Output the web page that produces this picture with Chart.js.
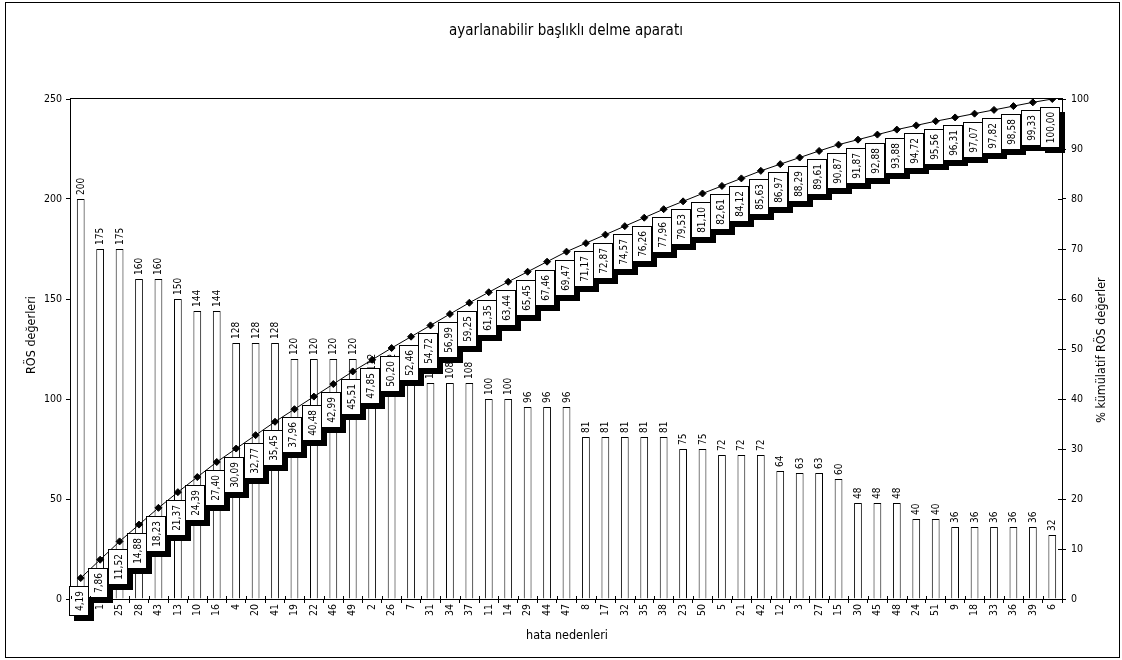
<!DOCTYPE html>
<html>
<head>
<meta charset="utf-8">
<script src="https://cdn.jsdelivr.net/npm/chart.js@4.4.1/dist/chart.umd.min.js"></script>
<style>
  html, body { margin: 0; padding: 0; background: #fff; }
  #wrap { width: 1122px; height: 660px; }
</style>
</head>
<body>
<div id="wrap"><canvas id="pareto" width="1122" height="660"></canvas></div>
<script>
// Texts
const chartTitle = 'ayarlanabilir başlıklı delme aparatı';
const xAxisTitle = 'hata nedenleri';
const leftAxisTitle = 'RÖS değerleri';
const rightAxisTitle = '% kümülatif RÖS değerler';

// Failure causes, sorted by RÖS value (descending)
const causes = ['40','1','25','28','43','13','10','16','4','20','41','19','22','46','49','2','26','7',
  '31','34','37','11','14','29','44','47','8','17','32','35','38','23','50','5','21','42','12','3',
  '27','15','30','45','48','24','51','9','18','33','36','39','6'];

// RÖS value of each cause
const rosValues = [200,175,175,160,160,150,144,144,128,128,128,120,120,120,120,112,112,108,
  108,108,108,100,100,96,96,96,81,81,81,81,81,75,75,72,72,72,64,63,
  63,60,48,48,48,40,40,36,36,36,36,36,32];

// Axis tick labels
const leftTicks = [0, 50, 100, 150, 200, 250];
const rightTicks = [0, 10, 20, 30, 40, 50, 60, 70, 80, 90, 100];

// Cumulative percentage (rounded to two decimals, used for both the line and its labels)
const total = rosValues.reduce((a, b) => a + b, 0);
let running = 0;
const cumulativePct = rosValues.map(v => {
  running += v;
  return Math.round(running / total * 10000) / 100;
});

const FONT = "'DejaVu Sans Condensed', 'DejaVu Sans', sans-serif";
const fmt = v => v.toFixed(2).replace('.', ',');

const decor = {
  id: 'decor',
  beforeDatasetsDraw(chart) {
    const { ctx, chartArea: a } = chart;
    ctx.save();
    ctx.strokeStyle = '#000';
    ctx.lineWidth = 1;
    ctx.strokeRect(Math.round(a.left) - 0.5, Math.round(a.top) - 0.5,
      Math.round(a.right - a.left) + 1, Math.round(a.bottom - a.top) + 1);
    ctx.restore();
  },
  afterDatasetsDraw(chart) {
    const { ctx } = chart;
    const bars = chart.getDatasetMeta(1).data;
    const pts = chart.getDatasetMeta(0).data;
    ctx.save();
    ctx.fillStyle = '#000';
    ctx.font = '10px ' + FONT;
    // value labels above the bars
    bars.forEach((b, i) => {
      ctx.save();
      ctx.translate(Math.round(b.x) + 0.5, b.y - 4);
      ctx.rotate(-Math.PI / 2);
      ctx.textAlign = 'left';
      ctx.textBaseline = 'middle';
      ctx.fillText(String(rosValues[i]), 0, 0);
      ctx.restore();
    });
    // boxed cumulative labels with drop shadow
    pts.forEach((p, i) => {
      const txt = fmt(cumulativePct[i]);
      const tw = ctx.measureText(txt).width;
      const w = 20, h = Math.round(tw + 10);
      const cx = Math.round(p.x) - 2;
      const top = Math.round(p.y) + 8;
      const left = cx - w / 2;
      ctx.fillStyle = '#000';
      ctx.fillRect(left + 5, top + 5, w, h);
      ctx.fillStyle = '#fff';
      ctx.fillRect(left, top, w, h);
      ctx.strokeStyle = '#000';
      ctx.lineWidth = 1;
      ctx.strokeRect(left + 0.5, top + 0.5, w - 1, h - 1);
      ctx.save();
      ctx.translate(cx, top + h / 2);
      ctx.rotate(-Math.PI / 2);
      ctx.fillStyle = '#000';
      ctx.textAlign = 'center';
      ctx.textBaseline = 'middle';
      ctx.fillText(txt, 0, 1);
      ctx.restore();
    });
    ctx.restore();
  },
  afterDraw(chart) {
    const { ctx, chartArea: a } = chart;
    const x = chart.scales.x, y1 = chart.scales.y1;
    ctx.save();
    ctx.strokeStyle = '#000';
    ctx.lineWidth = 1;
    // inner half of the crossing tick marks
    ctx.beginPath();
    const n = causes.length;
    for (let i = 0; i <= n; i++) {
      let px;
      if (i === 0) px = a.left;
      else if (i === n) px = a.right;
      else px = (x.getPixelForTick(i - 1) + x.getPixelForTick(i)) / 2;
      px = Math.round(px) + 0.5;
      ctx.moveTo(px, a.bottom - 3);
      ctx.lineTo(px, a.bottom);
    }
    rightTicks.forEach(v => {
      const py = Math.round(y1.getPixelForValue(v)) + 0.5;
      ctx.moveTo(a.right - 4, py);
      ctx.lineTo(a.right, py);
    });
    ctx.stroke();
    // outer frame
    ctx.strokeRect(5.5, 2.5, 1114, 655);
    // titles
    ctx.fillStyle = '#000';
    ctx.textAlign = 'center';
    ctx.textBaseline = 'middle';
    ctx.font = '15px ' + FONT;
    ctx.fillText(chartTitle, 566, 31);
    ctx.font = '12.5px ' + FONT;
    ctx.fillText(xAxisTitle, 567, 636);
    ctx.save();
    ctx.translate(32, 335);
    ctx.rotate(-Math.PI / 2);
    ctx.fillText(leftAxisTitle, 0, 0);
    ctx.restore();
    ctx.save();
    ctx.translate(1102, 350);
    ctx.rotate(-Math.PI / 2);
    ctx.fillText(rightAxisTitle, 0, 0);
    ctx.restore();
    ctx.restore();
  }
};

const tickFont = { family: FONT, size: 10.5 };

new Chart(document.getElementById('pareto'), {
  data: {
    labels: causes,
    datasets: [
      {
        type: 'line',
        data: cumulativePct,
        yAxisID: 'y1',
        order: 0,
        borderColor: '#000',
        borderWidth: 1,
        pointStyle: 'rectRot',
        pointRadius: 3.5,
        pointBackgroundColor: '#000',
        pointBorderColor: '#000',
        pointBorderWidth: 1,
        tension: 0
      },
      {
        type: 'bar',
        data: rosValues,
        yAxisID: 'y',
        order: 1,
        backgroundColor: '#fff',
        borderColor: '#000',
        borderWidth: 1,
        barPercentage: 0.4,
        categoryPercentage: 1
      }
    ]
  },
  options: {
    responsive: false,
    animation: false,
    events: [],
    layout: { padding: { top: 99, left: 0, right: 0, bottom: 0 } },
    plugins: { legend: { display: false }, tooltip: { enabled: false }, title: { display: false } },
    scales: {
      x: {
        type: 'category',
        z: 1,
        offset: true,
        border: { display: false },
        grid: { offset: true, drawOnChartArea: false, drawTicks: true, tickLength: 4, color: '#000' },
        ticks: { autoSkip: false, minRotation: 90, maxRotation: 90, padding: 1, color: '#000', font: tickFont },
        afterFit(s) { s.height = 61; }
      },
      y: {
        position: 'left',
        min: 0, max: 250,
        border: { display: false },
        grid: { drawOnChartArea: false, tickLength: 5, color: '#000' },
        ticks: { padding: 4, color: '#000', font: tickFont },
        afterBuildTicks(s) { s.ticks = leftTicks.map(v => ({ value: v })); },
        afterFit(s) { s.width = 71; }
      },
      y1: {
        position: 'right',
        min: 0, max: 100,
        border: { display: false },
        grid: { drawOnChartArea: false, tickLength: 4, color: '#000' },
        ticks: { padding: 5, color: '#000', font: tickFont },
        afterBuildTicks(s) { s.ticks = rightTicks.map(v => ({ value: v })); },
        afterFit(s) { s.width = 60; }
      }
    }
  },
  plugins: [decor]
});
</script>
</body>
</html>
